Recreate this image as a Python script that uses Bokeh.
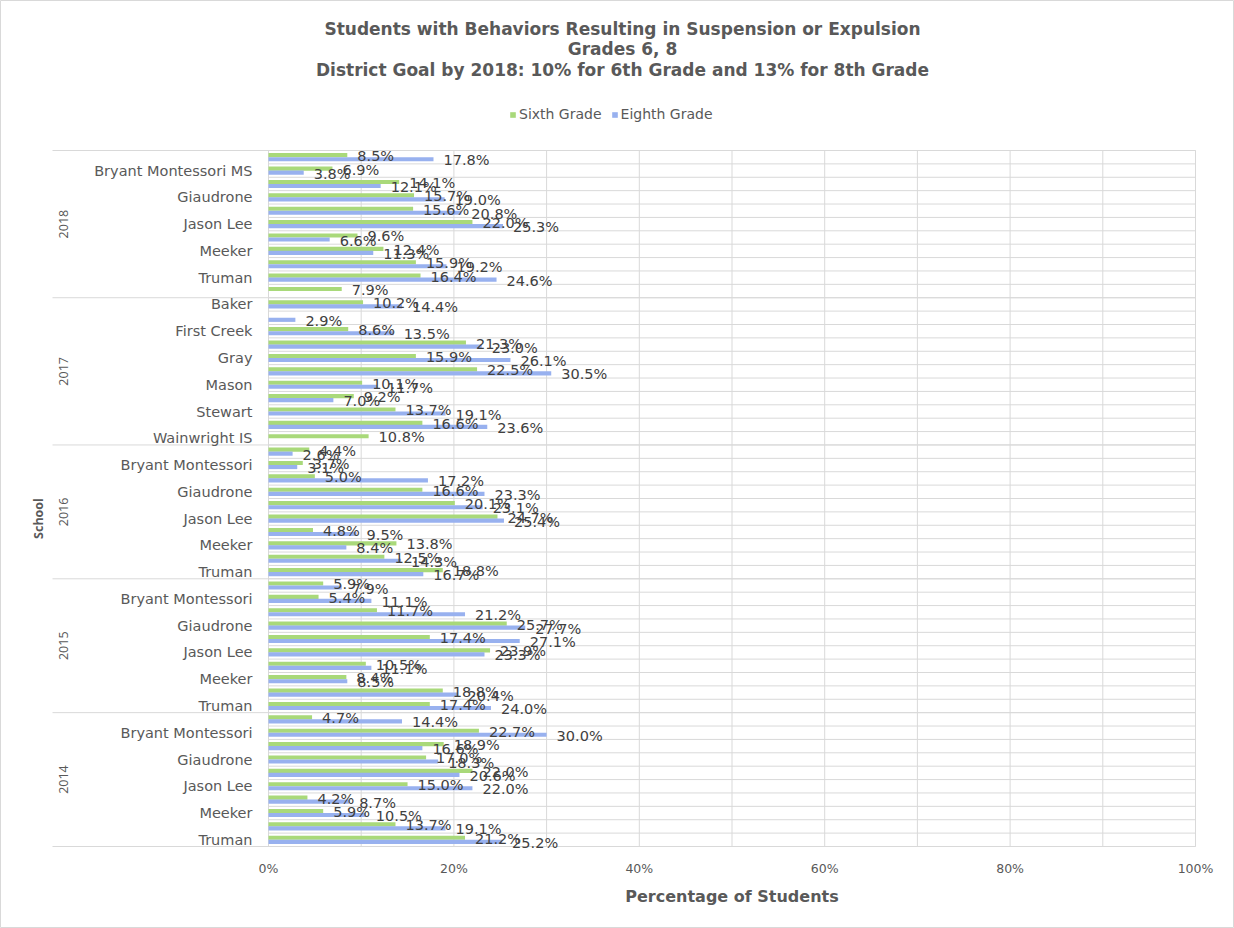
import math
from bokeh.plotting import figure
from bokeh.models import (Range1d, FixedTicker, PrintfTickFormatter, ColumnDataSource,
                          Legend, LegendItem, LinearAxis)
from bokeh.core.properties import value
from bokeh.embed import file_html
from bokeh.resources import INLINE

# ---------------- data ----------------
years = ["2018", "2017", "2016", "2015", "2014"]

schools_2018 = ["Baker", "Bryant Montessori MS", "First Creek", "Giaudrone", "Gray", "Jason Lee",
                "Mason", "Meeker", "Stewart", "Truman", "Wainwright IS"]
sixth_2018 = [8.5, 6.9, 14.1, 15.7, 15.6, 22.0, 9.6, 12.4, 15.9, 16.4, 7.9]
eighth_2018 = [17.8, 3.8, 12.1, 19.0, 20.8, 25.3, 6.6, 11.3, 19.2, 24.6, None]

schools_2017 = ["Baker", "Bryant Montessori", "First Creek", "Giaudrone", "Gray", "Jason Lee",
                "Mason", "Meeker", "Stewart", "Truman", "Wainwright IS"]
sixth_2017 = [10.2, None, 8.6, 21.3, 15.9, 22.5, 10.1, 9.2, 13.7, 16.6, 10.8]
eighth_2017 = [14.4, 2.9, 13.5, 23.0, 26.1, 30.5, 11.7, 7.0, 19.1, 23.6, None]

schools_2016 = ["Baker", "Bryant Montessori", "First Creek", "Giaudrone", "Gray", "Jason Lee",
                "Mason", "Meeker", "Stewart", "Truman"]
sixth_2016 = [4.4, 3.7, 5.0, 16.6, 20.1, 24.7, 4.8, 13.8, 12.5, 18.8]
eighth_2016 = [2.6, 3.1, 17.2, 23.3, 23.1, 25.4, 9.5, 8.4, 14.3, 16.7]

schools_2015 = ["Baker", "Bryant Montessori", "First Creek", "Giaudrone", "Gray", "Jason Lee",
                "Mason", "Meeker", "Stewart", "Truman"]
sixth_2015 = [5.9, 5.4, 11.7, 25.7, 17.4, 23.9, 10.5, 8.4, 18.8, 17.4]
eighth_2015 = [7.9, 11.1, 21.2, 27.7, 27.1, 23.3, 11.1, 8.5, 20.4, 24.0]

schools_2014 = ["Baker", "Bryant Montessori", "First Creek", "Giaudrone", "Gray", "Jason Lee",
                "Mason", "Meeker", "Stewart", "Truman"]
sixth_2014 = [4.7, 22.7, 18.9, 17.0, 22.0, 15.0, 4.2, 5.9, 13.7, 21.2]
eighth_2014 = [14.4, 30.0, 16.6, 18.3, 20.6, 22.0, 8.7, 10.5, 19.1, 25.2]

x_ticks = [0, 20, 40, 60, 80, 100]
x_grid = [0, 10, 20, 30, 40, 50, 60, 70, 80, 90, 100]
series_names = ["Sixth Grade", "Eighth Grade"]

title_lines = ["Students with Behaviors Resulting in Suspension or Expulsion",
               "Grades 6, 8",
               "District Goal by 2018: 10% for 6th Grade and 13% for 8th Grade"]

# ---------------- styling ----------------
FONT = "DejaVu Sans"
VFONT = "Open Sans"
GREEN = "#a9d97a"
BLUE = "#98b1ef"
GRID = "#d9d9d9"
TXT = "#595959"
LBL = "#404040"

blocks = [
    (years[0], schools_2018, sixth_2018, eighth_2018),
    (years[1], schools_2017, sixth_2017, eighth_2017),
    (years[2], schools_2016, sixth_2016, eighth_2016),
    (years[3], schools_2015, sixth_2015, eighth_2015),
    (years[4], schools_2014, sixth_2014, eighth_2014),
]

six = dict(y=[], v=[], t=[])
eig = dict(y=[], v=[], t=[])
school_ticks, school_names = [], []
year_ticks = []
bounds_all = []
bounds_year = [0]
g = 0
for year, schools, s6, s8 in blocks:
    start = g
    for name, a, b in zip(schools, s6, s8):
        yc = 2 * g + 1
        bounds_all.append(2 * g)
        if a is not None:
            six["y"].append(yc - 0.3); six["v"].append(a); six["t"].append(f"{a:.1f}%")
        if b is not None:
            eig["y"].append(yc + 0.3); eig["v"].append(b); eig["t"].append(f"{b:.1f}%")
        if g % 2 == 1:
            school_ticks.append(yc); school_names.append(name)
        g += 1
    year_ticks.append(start + g)
    bounds_year.append(2 * g)
N = g
bounds_all.append(2 * N)

# geometry (page pixels; the figure sits at the page origin)
W, H = 1234, 928
PX_X = 927.0 / 100.0          # px per percent
PX_Y = 696.0 / (2 * N)        # px per y unit

def xpage(px):
    return (px - 268.0) / PX_X

def ypage(py):
    return (py - 150.0) / PX_Y

p = figure(width=W, height=H, title=None,
           x_range=Range1d(xpage(0), xpage(W)),
           y_range=Range1d(ypage(H), ypage(0)),
           output_backend="svg", toolbar_location=None,
           x_axis_location=None, y_axis_location=None,
           min_border=0)
p.outline_line_color = GRID
p.grid.visible = False

# grid lines
p.segment(x0=x_grid, x1=x_grid, y0=0, y1=2 * N, line_color=GRID, line_width=1)
p.segment(x0=0, x1=100, y0=bounds_all, y1=bounds_all, line_color=GRID, line_width=1)
p.segment(x0=xpage(52), x1=100, y0=bounds_year, y1=bounds_year, line_color=GRID, line_width=1)

src6 = ColumnDataSource(six)
src8 = ColumnDataSource(eig)
r6 = p.hbar(y="y", left=0, right="v", height=0.62, fill_color=GREEN, line_color=None, source=src6)
r8 = p.hbar(y="y", left=0, right="v", height=0.62, fill_color=BLUE, line_color=None, source=src8)

for src in (src6, src8):
    p.text(x="v", y="y", text="t", source=src, x_offset=10, y_offset=1,
           text_baseline="middle", text_align="left", text_font=value(FONT),
           text_font_size="14.5px", text_color=LBL)

# x axis (value axis)
xax = LinearAxis(fixed_location=2 * N, ticker=FixedTicker(ticks=x_ticks),
                 formatter=PrintfTickFormatter(format="%d%%"), bounds=(0, 100),
                 axis_line_color=None, major_tick_line_color=None, minor_tick_line_color=None,
                 major_label_standoff=8, major_label_text_font=FONT,
                 major_label_text_font_size="12.5px", major_label_text_color=TXT,
                 axis_label="Percentage of Students", axis_label_standoff=8,
                 axis_label_text_font=FONT, axis_label_text_font_size="16px",
                 axis_label_text_font_style="bold", axis_label_text_color=TXT)
p.add_layout(xax, "below")

# school axis
sax = LinearAxis(fixed_location=0, ticker=FixedTicker(ticks=school_ticks),
                 major_label_overrides={t: n for t, n in zip(school_ticks, school_names)},
                 axis_line_color=None, major_tick_line_color=None, minor_tick_line_color=None,
                 major_label_standoff=10, major_label_text_font=FONT,
                 major_label_text_font_size="14.5px", major_label_text_color=TXT)
p.add_layout(sax, "left")

# year axis with the axis title
yax = LinearAxis(fixed_location=xpage(80), ticker=FixedTicker(ticks=year_ticks),
                 major_label_overrides={t: y for t, y in zip(year_ticks, years)},
                 bounds=(6, 2 * N), major_label_orientation="parallel",
                 axis_line_color=None, major_tick_line_color=None, minor_tick_line_color=None,
                 major_label_standoff=6, major_label_text_font=VFONT,
                 major_label_text_font_size="12.5px", major_label_text_color=TXT,
                 axis_label="School", axis_label_standoff=10,
                 axis_label_text_font=VFONT, axis_label_text_font_size="12.5px",
                 axis_label_text_font_style="bold", axis_label_text_color=TXT)
p.add_layout(yax, "left")

# title
p.text(x=[xpage(622)] * 3, y=[ypage(28), ypage(48.5), ypage(69)], text=title_lines,
       text_align="center", text_baseline="middle", text_font=value(FONT),
       text_font_size="17px", text_font_style="bold", text_color=TXT)

legend = Legend(items=[LegendItem(label=series_names[0], renderers=[r6]),
                       LegendItem(label=series_names[1], renderers=[r8])],
                orientation="horizontal", location=(509, H - 122),
                glyph_width=7, glyph_height=7, label_text_font=FONT,
                label_text_font_size="14px", label_text_color=TXT,
                border_line_color=None, background_fill_alpha=0,
                padding=4, margin=0, spacing=9, label_standoff=3,
                label_height=16)
p.add_layout(legend, "center")

open("out.html", "w").write(file_html(p, INLINE))
